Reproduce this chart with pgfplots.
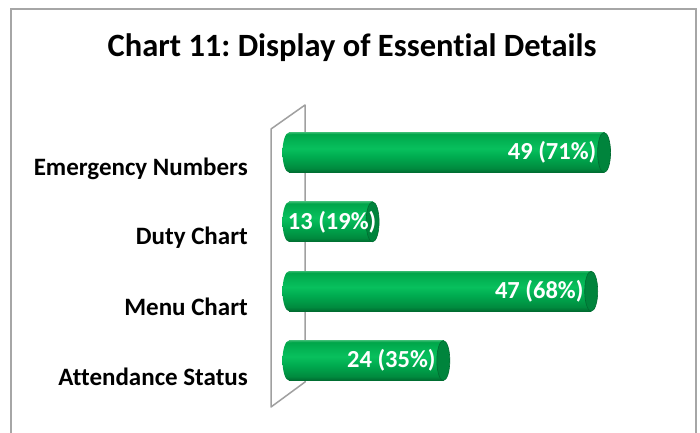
\documentclass[border=0pt]{standalone}
\usepackage{pgfplots}
\pgfplotsset{compat=1.18}
\usepackage{fontspec}
\setmainfont[Ligatures={NoCommon}]{Carlito}
\frenchspacing
\definecolor{gbot}{HTML}{006A30}
\definecolor{glow}{HTML}{008A3E}
\definecolor{gmid}{HTML}{00AC50}
\definecolor{glight}{HTML}{08C05D}
\definecolor{gup}{HTML}{03B253}
\definecolor{gtop}{HTML}{00A549}
\definecolor{gedge}{HTML}{30B86B}
\definecolor{gcap}{HTML}{00843C}
\definecolor{gcapdraw}{HTML}{006C31}
\definecolor{wallgray}{HTML}{A0A0A0}
\definecolor{framegray}{HTML}{A6A6A6}
\pgfdeclareverticalshading{cylsh}{100bp}{color(0bp)=(gbot); color(25bp)=(gbot); color(30bp)=(glow); color(45bp)=(gmid); color(55bp)=(glight); color(65bp)=(gup); color(73bp)=(gtop); color(75bp)=(gedge); color(100bp)=(gedge)}
\pgfdeclareplotmark{cylright}{%
  \pgfpathellipse{\pgfpointorigin}{\pgfqpoint{6.5pt}{0pt}}{\pgfqpoint{0pt}{20pt}}%
  \pgfusepath{fill,stroke}}
\pgfdeclareplotmark{cylleft}{%
  \pgfpathellipse{\pgfpointorigin}{\pgfqpoint{6.5pt}{0pt}}{\pgfqpoint{0pt}{20pt}}%
  \pgfshadepath{cylsh}{0}\pgfusepath{discard}}
\pgfplotsset{cylbar/.style={xbar, bar width=40pt, draw=none, shading=cylsh},
  barlabel/.style={only marks, mark=cylright, mark options={fill=gcap, draw=gcapdraw, line width=0.6pt},
  nodes near coords, point meta=explicit symbolic,
  every node near coord/.append style={anchor=east, inner sep=0pt, text=white, font=\fontsize{24.5}{28}\selectfont\bfseries}}}
\begin{document}
\begin{tikzpicture}
\useasboundingbox (0pt,0pt) rectangle (700pt,-432pt);
\fill[white] (0pt,0pt) rectangle (700pt,-432pt);
\draw[framegray, line width=1.3pt] (11pt,-445pt) -- (11pt,-9pt) -- (696pt,-9pt) -- (696pt,-445pt);
\node[font=\fontsize{32.5}{36}\selectfont\bfseries] at (352pt,-48pt) {Chart 11: Display of Essential Details};
\draw[wallgray, line width=1.5pt, line join=round] (271pt,-407pt) -- (271pt,-129pt) -- (305pt,-105pt) -- (305pt,-382pt) -- cycle;
\begin{scope}[shift={(289pt,-395.2pt)}]
\begin{axis}[
  at={(0pt,0pt)}, anchor=south west,
  scale only axis, width=385.8pt, height=277.4pt,
  xmin=0, xmax=60, ymin=-0.5, ymax=3.5,
  axis line style={draw=none},
  major tick length=0pt,
  xtick=\empty,
  ytick={0,1,2,3},
  yticklabels={Attendance Status, Menu Chart, Duty Chart, Emergency Numbers},
  yticklabel style={font=\fontsize{25}{28}\selectfont\bfseries, xshift=-41pt, yshift=-16pt, inner sep=0pt},
  clip=false,
]
\addplot[only marks, mark=cylleft] coordinates {(0,3) (0,2) (0,1) (0,0)};
\addplot[cylbar] coordinates {(49,3)};
\addplot[cylbar] coordinates {(13,2)};
\addplot[cylbar] coordinates {(47,1)};
\addplot[cylbar] coordinates {(24,0)};
\addplot[barlabel, every node near coord/.append style={xshift=-7.5pt}]
  coordinates {(49,3) [49 (71\%)] (47,1) [47 (68\%)] (24,0) [24 (35\%)]};
\addplot[barlabel, every node near coord/.append style={xshift=4pt}]
  coordinates {(13,2) [13 (19\%)]};
\end{axis}
\end{scope}
\end{tikzpicture}
\end{document}
